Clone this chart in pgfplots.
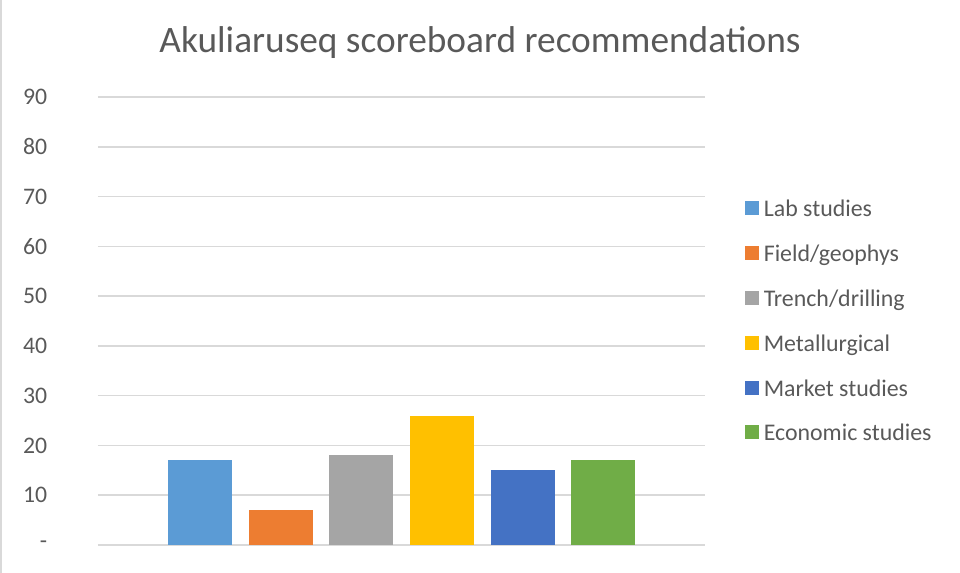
\documentclass[border=0pt]{standalone}
\usepackage{fontspec}
\setmainfont{Carlito}
\usepackage{pgfplots}
\pgfplotsset{compat=1.18}
\definecolor{txt}{HTML}{595959}
\definecolor{gridc}{HTML}{D9D9D9}
\definecolor{c1}{HTML}{5B9BD5}
\definecolor{c2}{HTML}{ED7D31}
\definecolor{c3}{HTML}{A5A5A5}
\definecolor{c4}{HTML}{FFC000}
\definecolor{c5}{HTML}{4472C4}
\definecolor{c6}{HTML}{70AD47}
\begin{document}
\begin{tikzpicture}
\useasboundingbox (0pt,0pt) rectangle (720pt,429.75pt);
\fill[gridc] (0pt,0pt) rectangle (1.5pt,429.75pt);
\begin{axis}[
  at={(73.5pt,21pt)}, anchor=south west,
  scale only axis,
  width=455.25pt, height=336pt,
  xmin=-1, xmax=1, ymin=0, ymax=90,
  ytick={0,10,...,90},
  yticklabels={-\hspace{8.2pt},10,20,30,40,50,60,70,80,90},
  xtick=\empty,
  ymajorgrids,
  grid style={gridc, line width=1.1pt},
  axis line style={draw=none},
  major tick style={draw=none},
  /pgf/number format/assume math mode=true,
  yticklabel style={anchor=east, inner sep=0pt, xshift=-38pt, font=\fontsize{17.8}{20}\selectfont, text=txt},
  ybar=12.5pt, bar width=48pt,
  legend cell align=left,
  legend style={at={(1.0659,0.4989)}, anchor=west, draw=none, fill=none,
    inner sep=0pt, row sep=20.8pt, column sep=0pt,
    font=\fontsize{17.9}{20}\selectfont, text=txt,
    nodes={inner sep=0pt, text height=12pt, text depth=0.8pt}},
  legend image code/.code={\fill[#1] (0pt,-4.5pt) rectangle (10.5pt,6pt); \path (13.9pt,0pt);},
]
\addplot[fill=c1, draw=none] coordinates {(0,17)};
\addplot[fill=c2, draw=none] coordinates {(0,7)};
\addplot[fill=c3, draw=none] coordinates {(0,18)};
\addplot[fill=c4, draw=none] coordinates {(0,26)};
\addplot[fill=c5, draw=none] coordinates {(0,15)};
\addplot[fill=c6, draw=none] coordinates {(0,17)};
\legend{Lab studies, Field/geophys, Trench/drilling, Metallurgical, Market studies, Economic studies}
\end{axis}
\node[anchor=base, text=txt, font=\fontsize{28}{33}\selectfont, inner sep=0pt] at (360pt,390pt) {Akuliaruseq scoreboard recommendations};
\end{tikzpicture}
\end{document}
